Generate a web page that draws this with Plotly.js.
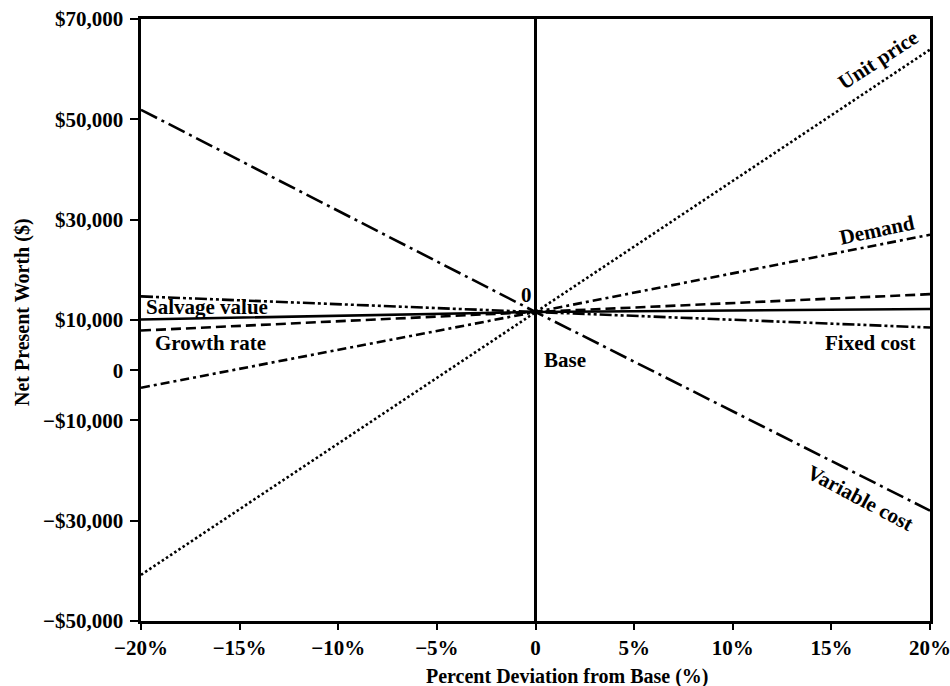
<!DOCTYPE html>
<html>
<head>
<meta charset="utf-8">
<script src="https://cdn.plot.ly/plotly-3.0.1.min.js"></script>
<style>html,body{margin:0;padding:0;background:#fff;}#chart{width:950px;height:686px;}</style>
</head>
<body>
<div id="chart"></div>
<script>
// Data (percent deviation from base, net present worth in $)
const deviation = [-20, 0, 20];
const unitPrice    = [-40800, 11600, 63900];
const variableCost = [51900, 11600, -28000];
const demand       = [-3500, 11600, 27000];
const salvageValue = [10100, 11600, 12200];
const growthRate   = [7900, 11600, 15150];
const fixedCost    = [14700, 11600, 8500];

const yTickVals = [-50000, -30000, -10000, 0, 10000, 30000, 50000, 70000];
const yTickText = ["\u2212$50,000", "\u2212$30,000", "\u2212$10,000", "0", "$10,000", "$30,000", "$50,000", "$70,000"];
const xTickVals = [-20, -15, -10, -5, 0, 5, 10, 15, 20];
const xTickText = ["\u221220%", "\u221215%", "\u221210%", "\u22125%", "0", "5%", "10%", "15%", "20%"];

const FONT = "Liberation Serif, Times New Roman, serif";

function tr(name, y, dash, width) {
  return {x: deviation, y: y, name: name, mode: "lines", type: "scatter",
          line: {color: "#000", width: width || 2.5, dash: dash}, hoverinfo: "none"};
}

const data = [
  tr("Unit price", unitPrice, "2.5px,2.5px", 2.6),
  tr("Variable cost", variableCost, "18px,5px,3px,5px", 2.6),
  tr("Demand", demand, "9px,4px,3px,4px", 2.6),
  tr("Salvage value", salvageValue, "solid", 2.6),
  tr("Growth rate", growthRate, "10px,5px", 2.6),
  tr("Fixed cost", fixedCost, "12px,3px,3px,3px,3px,3px", 2.6)
];

function lab(text, x, y, angle) {
  return {x: x, y: y, xref: "x", yref: "y", text: text, showarrow: false,
          xanchor: "center", yanchor: "middle",
          textangle: angle || 0, font: {family: FONT, size: 21, color: "#000", weight: "bold"}};
}

const layout = {
  width: 950, height: 686,
  margin: {l: 141, r: 20, t: 19, b: 65},
  paper_bgcolor: "#fff", plot_bgcolor: "#fff",
  showlegend: false,
  font: {family: FONT, color: "#000", size: 20, weight: "bold"},
  xaxis: {
    range: [-20, 20], tickvals: xTickVals, ticktext: xTickText,
    showgrid: false, zeroline: true, zerolinecolor: "#000", zerolinewidth: 2.6,
    showline: true, linecolor: "#000", linewidth: 2.6, mirror: true,
    ticks: "outside", ticklen: 6, tickwidth: 2, tickcolor: "#000",
    ticklabeloverflow: "allow",
    tickfont: {family: FONT, size: 21, color: "#000", weight: "bold"}
  },
  yaxis: {
    range: [-50000, 70000], tickvals: yTickVals, ticktext: yTickText,
    showgrid: false, zeroline: false,
    showline: true, linecolor: "#000", linewidth: 2.6, mirror: true,
    ticks: "outside", ticklen: 8, tickwidth: 2, tickcolor: "#000",
    ticklabelstandoff: 3, ticklabeloverflow: "allow",
    tickfont: {family: FONT, size: 21, color: "#000", weight: "bold"}
  },
  annotations: [
    lab("Unit price", 17.36, 61800, -33),
    lab("Demand", 17.31, 27940, -12),
    lab("Fixed cost", 16.96, 5415, 0),
    lab("Variable cost", 16.45, -25480, 28),
    lab("Salvage value", -16.65, 12590, 0),
    lab("Growth rate", -16.5, 5415, 0),
    lab("0", -0.48, 14980, 0),
    lab("Base", 1.5, 2030, 0),
    {xref: "paper", yref: "paper", x: (22 - 141) / 789, y: (621 - 312) / 602,
     xanchor: "center", yanchor: "middle",
     text: "Net Present Worth ($)", showarrow: false, textangle: -90,
     font: {family: FONT, size: 20, color: "#000", weight: "bold"}},
    {xref: "paper", yref: "paper", x: (567 - 141) / 789, y: (621 - 676) / 602,
     xanchor: "center", yanchor: "middle",
     text: "Percent Deviation from Base (%)", showarrow: false,
     font: {family: FONT, size: 20, color: "#000", weight: "bold"}}
  ]
};

Plotly.newPlot("chart", data, layout, {displayModeBar: false, staticPlot: true});
</script>
</body>
</html>
